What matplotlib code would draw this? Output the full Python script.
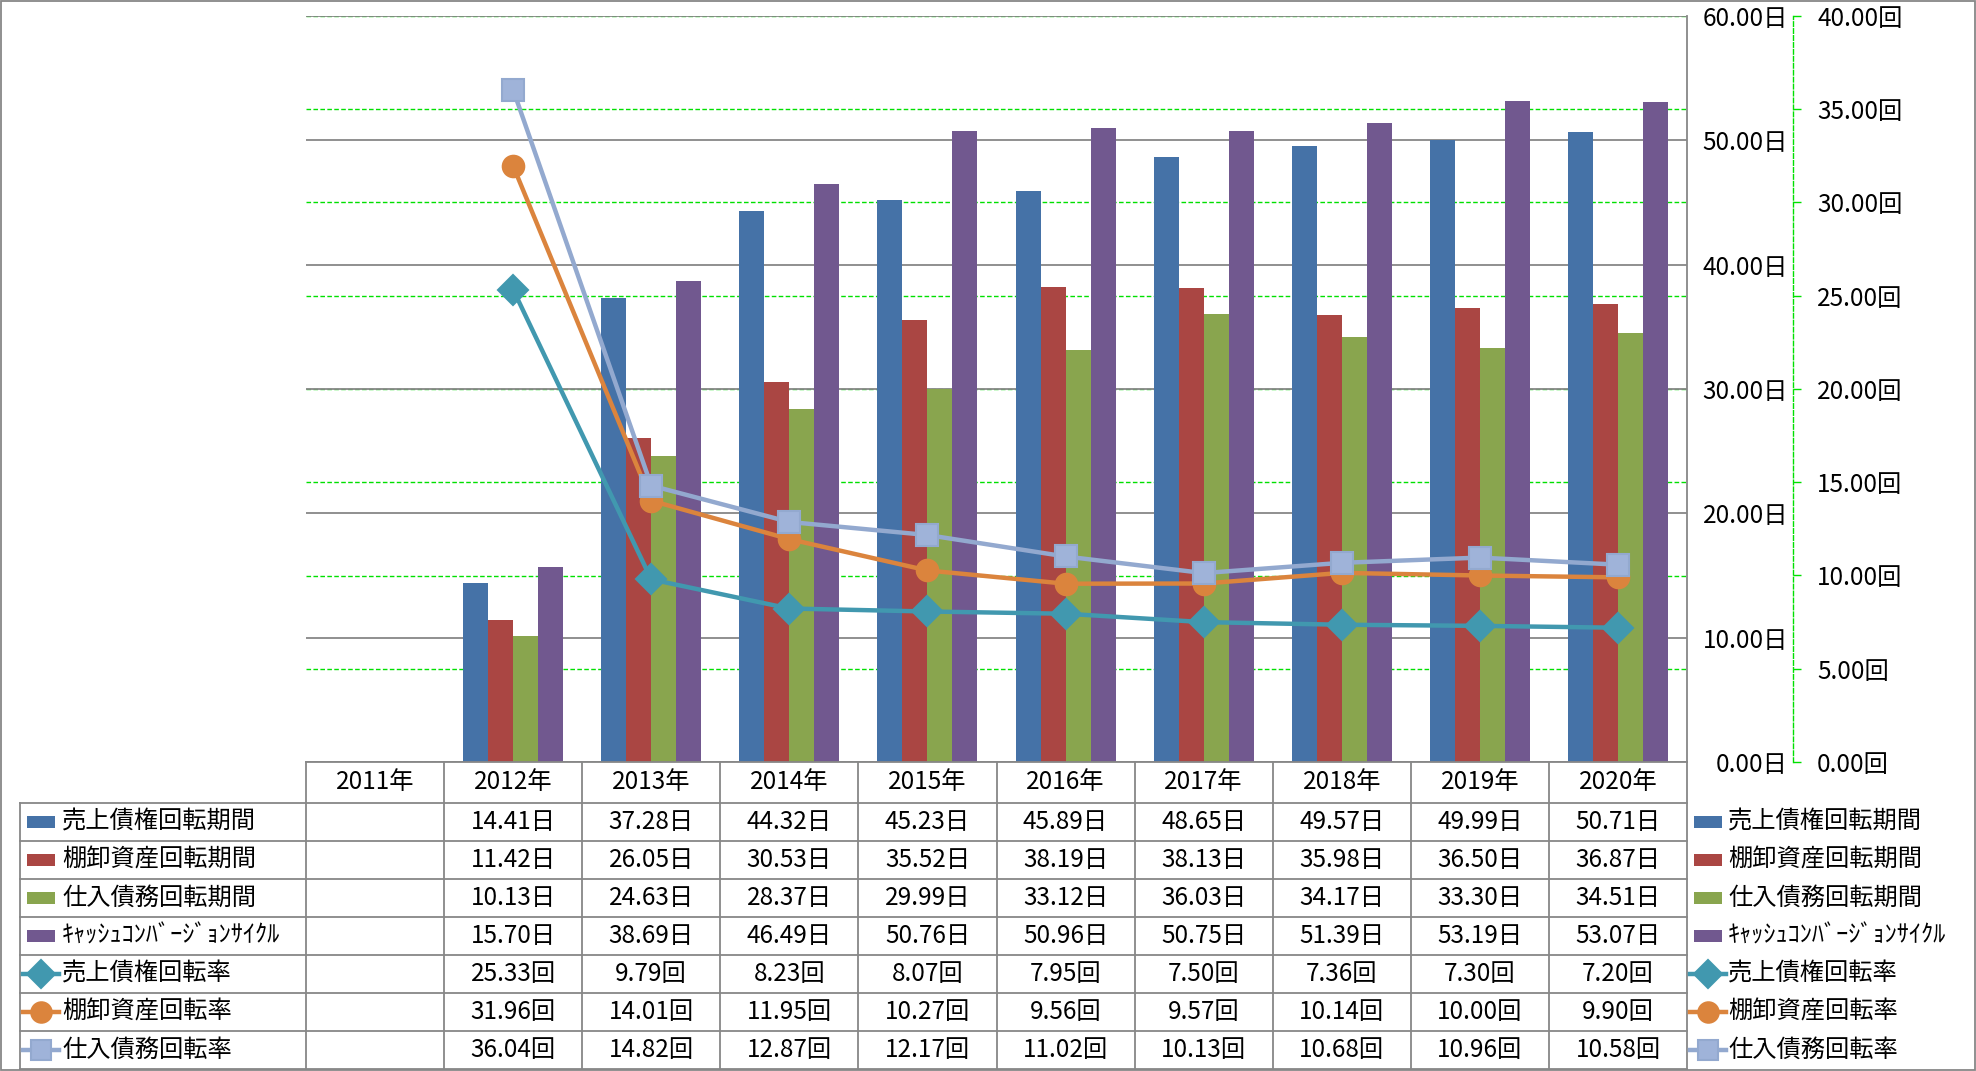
import numpy as np
import matplotlib
matplotlib.use("Agg")
import matplotlib.pyplot as plt
from matplotlib.lines import Line2D
from matplotlib.patches import Rectangle
from matplotlib.ticker import FormatStrFormatter, MultipleLocator
from matplotlib.transforms import blended_transform_factory

plt.rcParams['font.family'] = ['Noto Sans CJK JP', 'DejaVu Sans']

years = ["2011年", "2012年", "2013年", "2014年", "2015年", "2016年", "2017年", "2018年", "2019年", "2020年"]
ar_days = [14.41, 37.28, 44.32, 45.23, 45.89, 48.65, 49.57, 49.99, 50.71]
inv_days = [11.42, 26.05, 30.53, 35.52, 38.19, 38.13, 35.98, 36.50, 36.87]
ap_days = [10.13, 24.63, 28.37, 29.99, 33.12, 36.03, 34.17, 33.30, 34.51]
ccc_days = [15.70, 38.69, 46.49, 50.76, 50.96, 50.75, 51.39, 53.19, 53.07]
ar_turn = [25.33, 9.79, 8.23, 8.07, 7.95, 7.50, 7.36, 7.30, 7.20]
inv_turn = [31.96, 14.01, 11.95, 10.27, 9.56, 9.57, 10.14, 10.00, 9.90]
ap_turn = [36.04, 14.82, 12.87, 12.17, 11.02, 10.13, 10.68, 10.96, 10.58]

bar_names = ["売上債権回転期間", "棚卸資産回転期間", "仕入債務回転期間", "ｷｬｯｼｭｺﾝﾊﾞｰｼﾞｮﾝｻｲｸﾙ"]
line_names = ["売上債権回転率", "棚卸資産回転率", "仕入債務回転率"]
bar_series = [ar_days, inv_days, ap_days, ccc_days]
line_series = [ar_turn, inv_turn, ap_turn]

bar_colors = ["#4572A7", "#AA4643", "#89A54E", "#71588F"]
line_colors = ["#4198AF", "#DB843D", "#93A9CF"]
line_faces = ["#4198AF", "#DB843D", "#9FB3D9"]
markers = ["D", "o", "s"]
msizes = [15, 15.5, 15.5]

W, H = 1976, 1071
def fx(x):
    return x / W
def fy(y):
    return 1 - y / H

grid_gray = "#878787"
green = "#00E000"
fs = 17.5

fig = plt.figure(figsize=(W / 100, H / 100), dpi=100)
left, right, top, bottom = 306, 1687, 16, 762
rect = [fx(left), fy(bottom), fx(right) - fx(left), fy(top) - fy(bottom)]

# secondary grid axis (behind bars)
ax_g = fig.add_axes(rect)
ax_g.set_zorder(0)
ax_g.set_ylim(0, 40)
ax_g.set_xlim(-0.5, len(years) - 0.5)
ax_g.yaxis.set_major_locator(MultipleLocator(5))
ax_g.grid(axis="y", color=green, lw=1.0, linestyle=(0, (3.3, 1.7)))
ax_g.set_xticks([])
ax_g.tick_params(left=False, labelleft=False)
for s in ax_g.spines.values():
    s.set_visible(False)

# primary axis: bars (days)
ax = fig.add_axes(rect)
ax.set_zorder(1)
ax.patch.set_visible(False)
x_data = np.arange(1, len(years))
bw = 0.181
for i, (vals, c) in enumerate(zip(bar_series, bar_colors)):
    ax.bar(x_data + (i - 1.5) * bw, vals, width=bw, color=c, linewidth=0)
ax.set_xlim(-0.5, len(years) - 0.5)
ax.set_ylim(0, 60)
ax.set_xticks([])
ax.grid(axis="y", color=grid_gray, lw=1.3)
ax.set_axisbelow(True)

# secondary axis: lines (times)
ax2 = ax.twinx()
ax2.set_zorder(2)
ax2.set_ylim(0, 40)
ax2.set_yticks(np.arange(0, 41, 5))
ax2.yaxis.set_major_formatter(FormatStrFormatter("%.2f回"))
for i, vals in enumerate(line_series):
    ax2.plot(x_data, vals, color=line_colors[i], lw=3.2, marker=markers[i],
             markersize=msizes[i], markerfacecolor=line_faces[i],
             markeredgecolor=line_colors[i], markeredgewidth=1.5)
for k in ["top", "left", "bottom"]:
    ax2.spines[k].set_visible(False)
ax2.spines["right"].set_position(("outward", 76.3))
ax2.spines["right"].set_color(green)
ax2.spines["right"].set_linestyle((0, (3.3, 1.7)))
ax2.spines["right"].set_linewidth(1.0)
ax2.tick_params(axis="y", direction="out", length=5.8, width=1.0, color=green,
                pad=11.5, labelsize=fs)

# day labels sit on the right, right-aligned (set after twinx)
ax.set_yticks(np.arange(0, 61, 10))
ax.yaxis.set_major_formatter(FormatStrFormatter("%.2f日"))
ax.yaxis.tick_right()
ax.tick_params(axis="y", length=0, pad=72.7, labelsize=fs)
plt.setp(ax.get_yticklabels(), ha="right")
for k in ["top", "left"]:
    ax.spines[k].set_visible(False)
for k in ["right", "bottom"]:
    ax.spines[k].set_color(grid_gray)
    ax.spines[k].set_linewidth(1.3)

# data table below the plot
tr = blended_transform_factory(ax.transData, fig.transFigure)
line_kw = dict(color=grid_gray, lw=1.3)
row_top = 803
row_h = 38
n_rows = len(bar_names) + len(line_names)
tab_bottom = row_top + n_rows * row_h

for k in range(len(years) + 1):
    fig.add_artist(Line2D([k - 0.5, k - 0.5], [fy(bottom), fy(tab_bottom)],
                          transform=tr, **line_kw))
fig.add_artist(Line2D([fx(20), fx(20)], [fy(row_top), fy(tab_bottom)], **line_kw))
for r in range(n_rows + 1):
    yy = fy(row_top + r * row_h)
    fig.add_artist(Line2D([fx(20), fx(right)], [yy, yy], **line_kw))

for j, lab in enumerate(years):
    fig.text(j, fy(782), lab, transform=tr, ha="center", va="center", fontsize=fs)

rows = [(v, "日") for v in bar_series] + [(v, "回") for v in line_series]
for r, (vals, unit) in enumerate(rows):
    yc = fy(row_top + row_h * (r + 0.5))
    for xv, v in zip(x_data, vals):
        fig.text(xv, yc, f"{v:.2f}{unit}", transform=tr, ha="center", va="center",
                 fontsize=fs)

# legend keys, in the table and to the right
def draw_key(r, x0, x1, xt):
    yc = row_top + row_h * (r + 0.5)
    if r < len(bar_names):
        fig.add_artist(Rectangle((fx(x0 + 2), fy(yc + 6)), fx(x1 - x0 - 4), 12 / H,
                                 color=bar_colors[r], lw=0))
        name = bar_names[r]
        kw = dict(fontsize=fs, fontstretch="normal")
    else:
        i = r - len(bar_names)
        fig.add_artist(Line2D([fx(x0 - 2), fx(x1 + 2)], [fy(yc), fy(yc)],
                              color=line_colors[i], lw=3.2))
        fig.add_artist(Line2D([fx((x0 + x1) / 2)], [fy(yc)], marker=markers[i],
                              markersize=msizes[i] * 0.95,
                              markerfacecolor=line_faces[i],
                              markeredgecolor=line_colors[i], markeredgewidth=1.5))
        name = line_names[i]
        kw = dict(fontsize=fs)
    fig.text(fx(xt), fy(yc), name, ha="left", va="center", **kw)

for r in range(n_rows):
    draw_key(r, 25, 57, 62)
    draw_key(r, 1692, 1724, 1728)

# outer border
fig.add_artist(Rectangle((fx(1), fy(1070)), fx(1974), 1069 / H, fill=False,
                         edgecolor=grid_gray, lw=1.3))

fig.savefig("out.png", dpi=100)
